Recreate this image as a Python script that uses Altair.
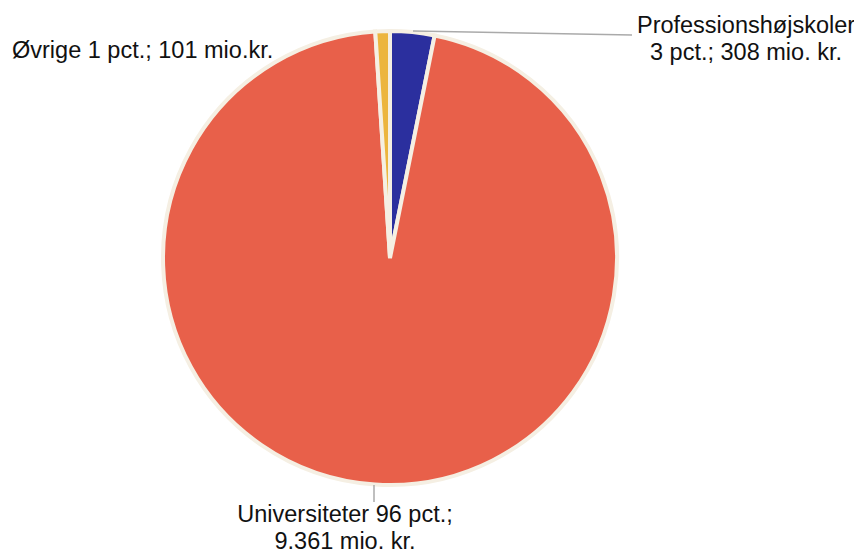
import altair as alt
import pandas as pd

categories = ["Professionshøjskoler", "Universiteter", "Øvrige"]
values = [308, 9361, 101]
colors = ["#2b2f9e", "#e8604a", "#ecb53e"]
order = [0, 1, 2]

label_lines = [
    ["Professionshøjskoler", "3 pct.; 308 mio. kr."],
    ["Universiteter 96 pct.;", "9.361 mio. kr."],
    ["Øvrige 1 pct.; 101 mio.kr."],
]
# label anchor positions (pixels) and alignment
label_x = [738, 337, 4]
label_y = [25, 514, 50]
label_align = ["center", "center", "left"]

# leader lines (pixels)
leader_x = [405, 366]
leader_y = [23, 477]
leader_x2 = [624, 366]
leader_y2 = [27, 494]

df = pd.DataFrame({"cat": categories, "value": values, "order": order})

pie = alt.Chart(df).mark_arc(
    outerRadius=227, stroke="#f5efe3", strokeWidth=4
).encode(
    theta=alt.Theta("value:Q", stack=True),
    order=alt.Order("order:Q"),
    color=alt.Color("cat:N", scale=alt.Scale(domain=categories, range=colors), legend=None),
    x=alt.value(382),
    y=alt.value(250),
)

layers = [pie]
for i in range(len(leader_x)):
    layers.append(
        alt.Chart(pd.DataFrame({"a": [0]})).mark_rule(color="#aaaaaa", strokeWidth=1.5).encode(
            x=alt.value(leader_x[i]), y=alt.value(leader_y[i]),
            x2=alt.value(leader_x2[i]), y2=alt.value(leader_y2[i]),
        )
    )
for i, lines in enumerate(label_lines):
    layers.append(
        alt.Chart(pd.DataFrame({"t": [lines]})).mark_text(
            font="Liberation Sans", fontSize=23.5, align=label_align[i],
            baseline="alphabetic", lineHeight=27, color="#111111",
        ).encode(
            text=alt.Text("t"),
            x=alt.value(label_x[i]), y=alt.value(label_y[i]),
        )
    )

chart = alt.layer(*layers).properties(
    width=846, height=545, autosize=alt.AutoSizeParams(type="none"), padding=0,
    background="white",
).configure_view(stroke=None, strokeWidth=0)

chart.save("out.html", embed_options={"renderer": "svg", "actions": False})
